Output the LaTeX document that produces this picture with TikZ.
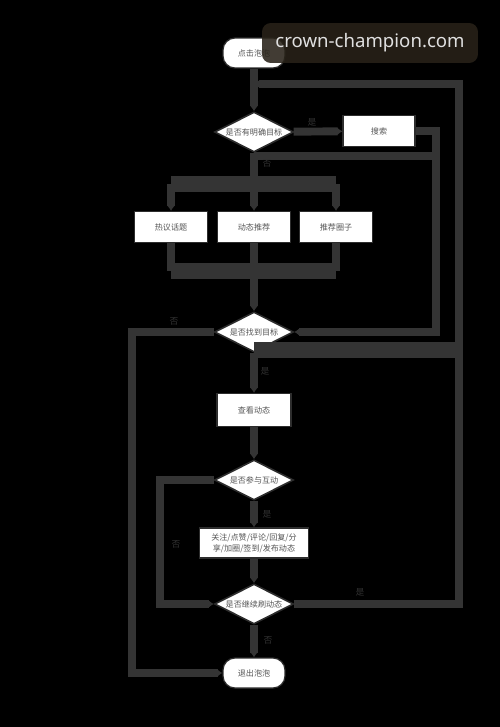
\documentclass[tikz,border=0pt]{standalone}
\usepackage{fontspec}
\setmainfont{Noto Sans CJK SC}
\newfontfamily\markfont{Noto Sans}
\definecolor{FlowLine}{RGB}{52,52,52}
\definecolor{FlowEdge}{RGB}{45,45,45}
\definecolor{FlowText}{RGB}{85,85,85}
\definecolor{LabelText}{RGB}{50,50,50}
\definecolor{MarkBrown}{RGB}{40,34,24}
\usetikzlibrary{arrows.meta,positioning,calc,shapes.geometric}

\begin{document}
\begin{tikzpicture}[x=0.02cm,y=-0.02cm,
  every node/.style={font=\fontsize{4.6}{6.2}\selectfont,text=FlowText},
  procbox/.style={draw=FlowEdge,fill=white,line width=0.7pt,align=center,
    inner sep=1pt,minimum width=#1,minimum height=0.62cm},
  procbox/.default=1.46cm,
  termbox/.style={procbox=1.24cm,rounded corners=0.24cm,minimum height=0.6cm},
  decide/.style={diamond,draw=FlowEdge,fill=white,line width=0.9pt,aspect=2,
    inner sep=0pt,minimum width=1.58cm,minimum height=0.8cm},
  flow/.style={draw=FlowLine,line width=4.5pt,-{Latex[length=3pt,width=4.5pt]}},
  flowwide/.style={draw=FlowLine,line width=9pt},
  yesno/.style={text=LabelText,font=\fontsize{5}{6}\selectfont,inner sep=0.5pt}]

  \fill[black] (0,0) rectangle (500,727);
  \useasboundingbox (0,0) rectangle (500,727);

  % main column
  \node[termbox] (start) at (254,53) {点击泡泡};
  \node[decide] (d1) at (254,132) {是否有明确目标};
  \node[procbox=1.44cm] (search) at (379,131) {搜索};
  \foreach \n/\x/\t in {hot/171/热议话题,feed/254/动态推荐,circle/336/推荐圈子}
    \node[procbox] (\n) at (\x,227) {\t};
  \node[decide] (d2) at (254,332) {是否找到目标};
  \node[procbox=1.48cm,minimum height=0.66cm] (view) at (254,410) {查看动态};
  \node[decide] (d3) at (254,480) {是否参与互动};
  \node[procbox=2.18cm,minimum height=0.6cm] (act) at (254,543)
    {关注/点赞/评论/回复/分\\享/加圈/签到/发布动态};
  \node[decide] (d4) at (254,604) {是否继续刷动态};
  \node[termbox] (quit) at (254,673) {退出泡泡};

  % turning points
  \coordinate (loopin) at (254,84);
  \coordinate (loopright) at (459,84);
  \coordinate (back) at (436,332);
  \coordinate (under) at (436,156);
  \coordinate (split) at (254,184);
  \coordinate (merge) at (254,271);
  \coordinate (again) at (459,350);
  \coordinate (exitleft) at (132,332);
  \coordinate (skipleft) at (160,480);

  \draw[flow] (start) -- (d1);
  \draw[flow] (d1) -- (search);
  \draw[flow] (search.east) -| (back) -- (d2.east);
  \draw[flow,-] (d1.south |- under) -- (under);
  \draw[flow,-] (d1) -- (split);
  \draw[flowwide] (hot.north |- split) -- (circle.north |- split);
  \foreach \n in {hot,feed,circle}{
    \draw[flow] (\n.north |- split) -- (\n.north);
    \draw[flow,-] (\n.south) -- (\n.south |- merge);
  }
  \draw[flowwide] (hot.south |- merge) -- (circle.south |- merge);
  \draw[flow] (merge) -- (d2);
  \draw[flow] (d2.west) -- (exitleft) |- (quit.west);
  \draw[flow] (d2) -- (view);
  \draw[flowwide] (again) -- (d2.south |- again);
  \draw[flow] (view) -- (d3);
  \draw[flow] (d3) -- (act);
  \draw[flow] (d3.west) -- (skipleft) |- (d4.west);
  \draw[flow] (act) -- (d4);
  \draw[flow] (d4) -- (quit);
  \draw[flow] (d4.east) -| (loopright) -- (loopin);

  % branch labels
  \node[yesno] at (312,122) {是};
  \node[yesno] at (267,163) {否};
  \node[yesno] at (174,321) {否};
  \node[yesno] at (265,371) {是};
  \node[yesno] at (267,514) {是};
  \node[yesno] at (176,544) {否};
  \node[yesno] at (360,592) {是};
  \node[yesno] at (268,640) {否};

  % watermark
  \node[fill=MarkBrown,fill opacity=0.88,text opacity=1,rounded corners=5pt,
        text=white!88!black,font=\markfont\fontsize{10.6}{12}\selectfont,
        minimum width=4.32cm,minimum height=0.8cm] (mark) at (370,43)
    {crown-champion.com};
\end{tikzpicture}
\end{document}
